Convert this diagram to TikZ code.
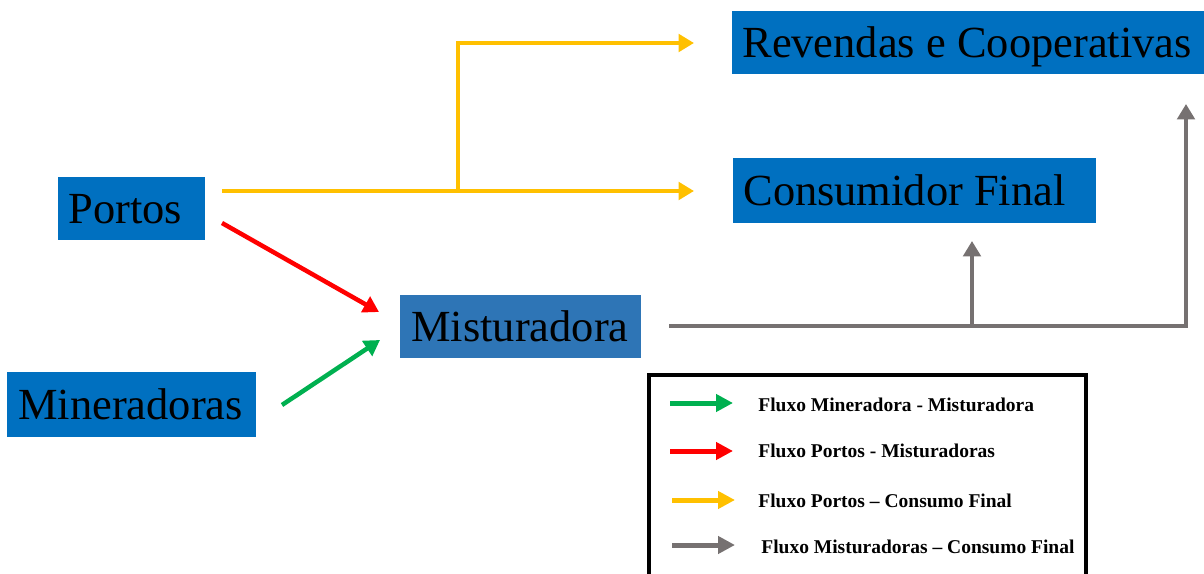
\documentclass[tikz,border=0pt]{standalone}
\usepackage{fontspec}
\setmainfont{Liberation Serif}
\usetikzlibrary{arrows.meta}
\definecolor{boxblue}{HTML}{0070C0}
\definecolor{mixblue}{HTML}{2E75B6}
\definecolor{flowyellow}{HTML}{FFC000}
\definecolor{flowred}{HTML}{FF0000}
\definecolor{flowgreen}{HTML}{00B050}
\definecolor{flowgray}{HTML}{767171}
\tikzset{
  box/.style={fill=boxblue, anchor=north west, inner ysep=0pt, align=flush left,
    text height=19pt, text depth=2.5pt,
    font=\fontsize{25.3pt}{30pt}\selectfont},
  flow/.style={line width=0.09cm, -{Triangle[length=0.31cm,width=0.35cm]}},
  flowline/.style={line width=0.09cm},
  legarrow/.style={line width=0.1cm, -{Triangle[length=0.34cm,width=0.34cm]}},
  legtext/.style={anchor=base west, inner sep=0pt,
    font=\fontsize{11.1pt}{13pt}\selectfont\bfseries},
  legbox/.style={draw=black, line width=0.08cm},
}
\begin{document}
\begin{tikzpicture}[x=0.02cm,y=-0.02cm]
\useasboundingbox (0,0) rectangle (1204,574);
\clip (0,0) rectangle (1204,574);
% boxes
\node[box, minimum height=1.26cm, inner xsep=0.2cm, text width=9.2cm] (rev) at (732,11) {Revendas e Cooperativas};
\node[box, minimum height=1.3cm, inner xsep=0.2cm, text width=6.86cm] (cons) at (733,158) {Consumidor Final};
\node[box, minimum height=1.26cm, inner xsep=0.2cm, text width=2.54cm] (portos) at (58,177) {Portos};
\node[box, fill=mixblue, minimum height=1.26cm, inner xsep=0.22cm, text width=4.38cm] (mist) at (400,295) {Misturadora};
\node[box, minimum height=1.3cm, inner xsep=0.22cm, text width=4.54cm] (miner) at (7,372) {Mineradoras};
% coordinates for connectors
\coordinate (ys) at (222,191);
\coordinate (yj) at (458,191);
\coordinate (yc) at (458,43);
\coordinate (yt1) at (694,43);
\coordinate (yt2) at (694,191);
\coordinate (rs) at (222,223);
\coordinate (rt) at (379,312);
\coordinate (gs) at (282,405);
\coordinate (gt) at (380,340);
\coordinate (ms) at (669,326);
\coordinate (mj) at (972,326);
\coordinate (mc) at (1186,326);
\coordinate (mt1) at (972,241);
\coordinate (mt2) at (1186,104);
% yellow
\draw[flowline, flowyellow] (ys) -- (yj);
\draw[flow, flowyellow] (yj) -- (yt2);
\draw[flow, flowyellow, line join=miter] (yj) -- (yc) -- (yt1);
% red, green
\draw[flow, flowred] (rs) -- (rt);
\draw[flow, flowgreen] (gs) -- (gt);
% gray
\draw[flow, flowgray, line join=miter] (ms) -- (mc) -- (mt2);
\draw[flow, flowgray] (mj) -- (mt1);
% legend
\draw[legbox] (649,375) rectangle (1086,620);
\coordinate (l1s) at (670,403); \coordinate (l1e) at (733,403);
\coordinate (l2s) at (670,451); \coordinate (l2e) at (733,451);
\coordinate (l3s) at (672,500); \coordinate (l3e) at (735,500);
\coordinate (l4s) at (672,545); \coordinate (l4e) at (735,545);
\draw[legarrow, flowgreen] (l1s) -- (l1e);
\draw[legarrow, flowred] (l2s) -- (l2e);
\draw[legarrow, flowyellow] (l3s) -- (l3e);
\draw[legarrow, flowgray] (l4s) -- (l4e);
\node[legtext] (t1) at (758,411) {Fluxo Mineradora - Misturadora};
\node[legtext] (t2) at (758,457) {Fluxo Portos - Misturadoras};
\node[legtext] (t3) at (758,507) {Fluxo Portos -- Consumo Final};
\node[legtext] (t4) at (761,553) {Fluxo Misturadoras -- Consumo Final};
\end{tikzpicture}
\end{document}
